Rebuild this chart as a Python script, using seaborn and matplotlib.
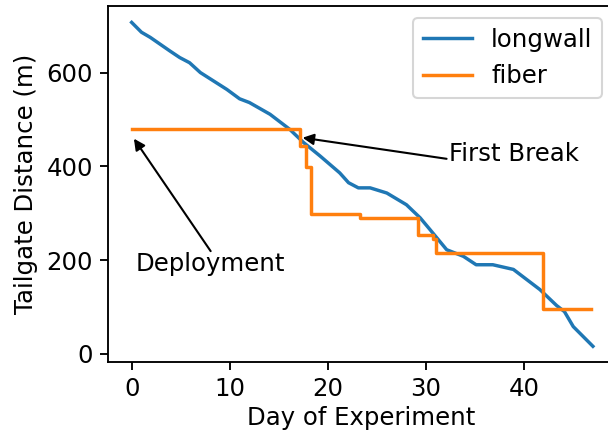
import matplotlib
matplotlib.use("Agg")
import matplotlib.pyplot as plt
import seaborn as sns
import pandas as pd

# Data
longwall_day = [0, 1.0, 1.9, 3.9, 4.9, 5.9, 7.0, 9.7, 11.0, 12.0, 14.1, 16.1, 17.5,
                19.2, 21.2, 22.1, 23.1, 24.3, 26.0, 28.0, 29.4, 30.4, 32.1, 33.8,
                35.1, 36.8, 38.9, 41.6, 43.3, 44.1, 45.0, 47.0]
longwall_dist = [707, 686, 675, 646, 632, 621, 600, 564, 544, 536, 511, 479, 451,
                 422, 386, 365, 354, 354, 343, 318, 290, 265, 222, 208,
                 190, 190, 180, 137, 103, 90, 58, 16]

fiber_day = [0, 17.2, 17.8, 18.3, 23.3, 29.2, 30.7, 31.0, 41.9, 46.8]
fiber_dist = [480, 443, 398, 299, 290, 254, 244, 216, 96, 96]

xticks = [0, 10, 20, 30, 40]
yticks = [0, 200, 400, 600]

lw_df = pd.DataFrame({"day": longwall_day, "dist": longwall_dist})
fb_df = pd.DataFrame({"day": fiber_day, "dist": fiber_dist})

plt.rcParams.update({
    "font.size": 11.7,
    "xtick.major.size": 3.9,
    "ytick.major.size": 3.9,
    "xtick.major.width": 0.9,
    "ytick.major.width": 0.9,
    "axes.linewidth": 0.9,
})

fig = plt.figure(figsize=(608 / 150, 433 / 150), dpi=150)
ax = fig.add_axes([108.3 / 608, 71 / 433, 506.2 / 608, 356 / 433])

sns.lineplot(data=lw_df, x="day", y="dist", ax=ax, color="tab:blue",
             label="longwall", linewidth=1.65, sort=False)
sns.lineplot(data=fb_df, x="day", y="dist", ax=ax, color="tab:orange",
             label="fiber", linewidth=1.65, drawstyle="steps-post", sort=False)

ax.set_xlim(-2.38, 49.2)
ax.set_ylim(-17.5, 742)
ax.set_xticks(xticks)
ax.set_yticks(yticks)
ax.set_xlabel("Day of Experiment", labelpad=2)
ax.set_ylabel("Tailgate Distance (m)")
ax.legend(loc="upper right")

arrow = dict(arrowstyle="-|>", color="black", lw=1.0, shrinkA=0, shrinkB=0,
             mutation_scale=11)
ax.annotate("", xy=(17.42, 461), xytext=(32.09, 416), arrowprops=arrow)
ax.text(32.36, 411, "First Break", ha="left", va="baseline")
ax.annotate("", xy=(0.23, 459), xytext=(8.05, 219), arrowprops=arrow)
ax.text(0.44, 176, "Deployment", ha="left", va="baseline")

fig.savefig("out.png", dpi=150)
